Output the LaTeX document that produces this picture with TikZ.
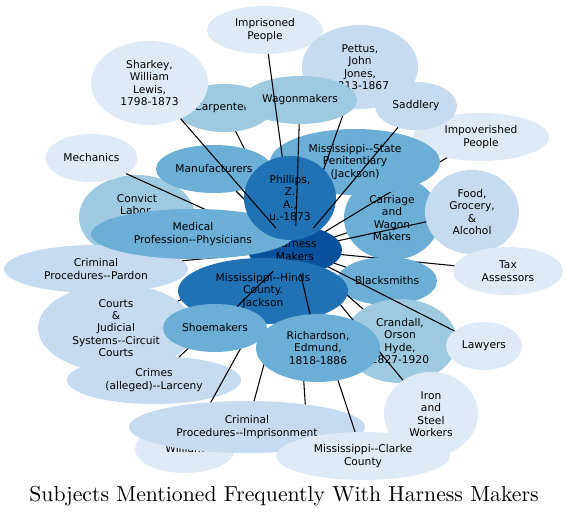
\documentclass[tikz,border=0pt]{standalone}
\usepackage{fontspec}
\newfontfamily\nodefont{DejaVu Sans}
\newfontfamily\titlefont{lmroman10-regular.otf}
\usetikzlibrary{shapes.geometric}
\definecolor{blueA}{HTML}{DEEBF7}
\definecolor{blueB}{HTML}{C6DBEF}
\definecolor{blueC}{HTML}{9ECAE1}
\definecolor{blueD}{HTML}{6BAED6}
\definecolor{blueE}{HTML}{2171B5}
\definecolor{blueF}{HTML}{08519C}
\newcommand{\dhy}{-\kern0pt-}

\begin{document}
\begin{tikzpicture}[x=0.75pt,y=-0.75pt,
  bub/.style={ellipse,inner sep=0pt,outer sep=0pt,align=center,
    font=\nodefont\fontsize{8}{9.3}\selectfont},
  ell/.style 2 args={minimum width=#1pt,minimum height=#2pt},
  wire/.style={line width=0.8pt}]

\useasboundingbox (0,0) rectangle (568,517);

% Centre
\node[bub,fill=blueF,ell={70.5}{36}] (HM) at (295,250) {Harness\\Makers};
\coordinate (X) at (308,445); % node hidden under the bottom bubbles

% Left side
\node[bub,fill=blueC,ell={87}{63}] (CL) at (137,217) {Convict\\Labor,\\Mississippi\\\mbox{}};
\node[bub,fill=blueA,ell={69}{36}] (ME) at (91.5,158) {Mechanics};
\draw[wire] (HM) -- (ME);
\draw[wire] (HM) -- (CL);
\node[bub,fill=blueB,ell={138}{36}] (PA) at (96,269) {Criminal\\Procedures\dhy Pardon};
\draw[wire] (HM) -- (PA);
\node[bub,fill=blueB,ell={117}{66}] (CO) at (116,328)
    {Courts\\\&\\Judicial\\Systems\dhy Circuit\\Courts};
\draw[wire] (HM) -- (CO);
\node[bub,fill=blueB,ell={130.5}{36}] (LC) at (154,380) {Crimes\\(alleged)\dhy Larceny};
\draw[wire] (HM) -- (LC);
\node[bub,fill=blueA,ell={75}{36}] (WI) at (185,449) {William};
\draw[wire] (HM) -- (WI);
\draw[wire] (HM) -- (X);
\node[bub,fill=blueB,ell={177}{39}] (PI) at (247,427) {Criminal\\Procedures\dhy Imprisonment};
\draw[wire] (HM) -- (PI);

% Top side
\node[bub,fill=blueA,ell={87}{36}] (IP) at (265,30) {Imprisoned\\People};
\node[bub,fill=blueB,ell={87}{63}] (PJ) at (360,67) {Pettus,\\John\\Jones,\\1813-1867};
\node[bub,fill=blueC,ell={72}{36}] (CA) at (224,108) {Carpenters};
\draw[wire] (HM) -- (CA);
\node[bub,fill=blueA,ell={87.75}{63}] (SW) at (149.5,83) {Sharkey,\\William\\Lewis,\\1798-1873};
\node[bub,fill=blueD,ell={87}{36}] (MF) at (214,169) {Manufacturers};
\draw[wire] (HM) -- (MF);
\node[bub,fill=blueD,ell={72}{63}] (CW) at (392,218) {Carriage\\and\\Wagon\\Makers};
\node[bub,fill=blueA,ell={102}{36}] (IM) at (481,137) {Impoverished\\People};
\draw[wire] (HM) -- (IM);
\draw[wire] (HM) -- (CW);
\node[bub,fill=blueD,ell={127.5}{49.5}] (PE) at (355,162)
    {Mississippi\dhy State\\Penitentiary\\(Jackson)};
\draw[wire] (HM) -- (PE);
\draw[wire] (HM) -- (PJ);
\node[bub,fill=blueC,ell={85.5}{36}] (WA) at (300,100) {Wagonmakers};
\draw[wire] (HM) -- (IP);
\node[bub,fill=blueB,ell={61.5}{36}] (SA) at (416,106) {Saddlery};
\node[bub,fill=blueB,ell={70.5}{63}] (FG) at (472,212) {Food,\\Grocery,\\\&\\Alcohol};
\draw[wire] (HM) -- (FG);
\node[bub,fill=blueD,ell={153}{37.5}] (MP) at (193,234) {Medical\\Profession\dhy Physicians};
\node[bub,fill=blueE,ell={69}{63}] (PH) at (290,198) {Phillips,\\Z.\\A.,\\u.-1873};
\draw[wire] (HM) -- (WA);
\draw[wire] (HM) -- (SA);
\draw[wire] (HM) -- (SW);

% Right side
\node[bub,fill=blueA,ell={82.5}{36}] (TA) at (508,271) {Tax\\Assessors};
\draw[wire] (HM) -- (TA);
\node[bub,fill=blueD,ell={75}{36}] (BL) at (387,281) {Blacksmiths};
\draw[wire] (HM) -- (BL);
\node[bub,fill=blueC,ell={85.5}{63}] (CR) at (400,341) {Crandall,\\Orson\\Hyde,\\1827-1920};
\draw[wire] (HM) -- (CR);
\node[bub,fill=blueA,ell={70.5}{63}] (IS) at (431,414) {Iron\\and\\Steel\\Workers};
\draw[wire] (HM) -- (IS);
\node[bub,fill=blueA,ell={130.5}{36}] (CC) at (363,456) {Mississippi\dhy Clarke\\County};
\draw[wire] (HM) -- (CC);
\node[bub,fill=blueE,ell={127.5}{49.5}] (HI) at (263,291)
    {Mississippi\dhy Hinds\\County.\\Jackson};
\node[bub,fill=blueD,ell={93}{51}] (RI) at (318,348) {Richardson,\\Edmund,\\1818-1886};
\draw[wire] (HM) -- (RI);
\node[bub,fill=blueD,ell={78}{36}] (SH) at (215,328) {Shoemakers};
\draw[wire] (HM) -- (SH);
\node[bub,fill=blueA,ell={57}{36}] (LA) at (484,346) {Lawyers};
\draw[wire] (HM) -- (LA);

% Title
\node[font=\titlefont\fontsize{16.3}{19}\selectfont] (T) at (284,496)
    {Subjects Mentioned Frequently With Harness Makers};

\end{tikzpicture}
\end{document}
